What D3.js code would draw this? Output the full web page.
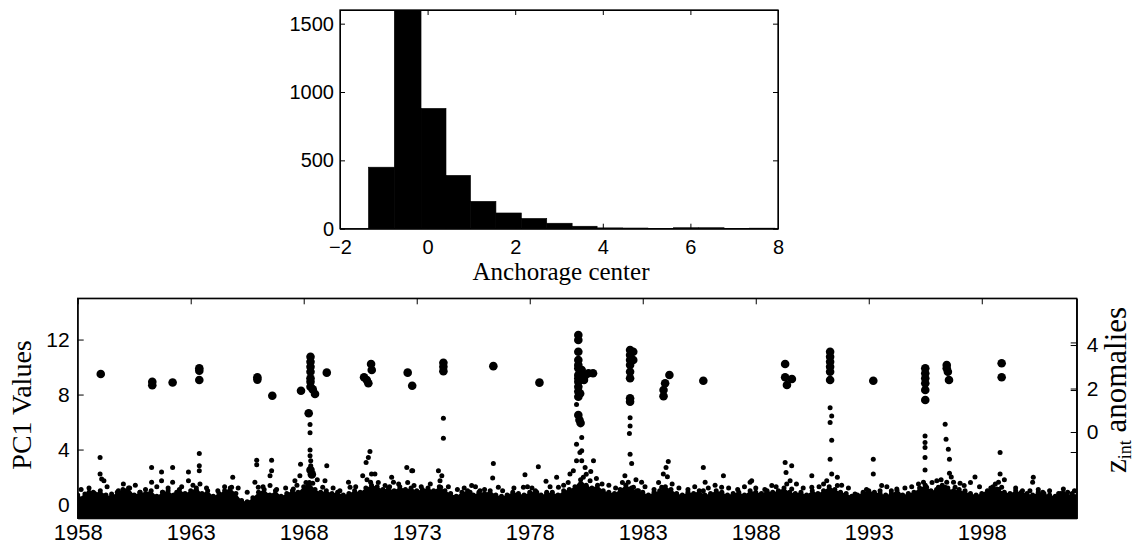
<!DOCTYPE html>
<html>
<head>
<meta charset="utf-8">
<script src="https://cdn.jsdelivr.net/npm/d3@7/dist/d3.min.js"></script>
<style>
	body { margin: 0; background: #fff; }
	svg { display: block; }
	.tick text { font-family: 'Liberation Sans', Arial, Helvetica, sans-serif; fill: #000; }
	.tick line, .domain { stroke: #000; }
	.ttl { font-family: 'Liberation Serif', 'Times New Roman', serif; fill: #000; }
</style>
</head>
<body>
<div id="chart"></div>
<script>
// histogram (top panel)
const histEdges = [-1.35, -0.76, -0.15, 0.42, 0.98, 1.56, 2.14, 2.72, 3.30, 3.87, 4.45, 5.03, 5.61, 6.19, 6.77, 7.35, 7.93];
const histCounts = [450, 2050, 880, 390, 200, 115, 75, 40, 18, 6, 5, 2, 7, 7, 1, 4];
const histXTicks = [-2, 0, 2, 4, 6, 8];
const histYTicks = [0, 500, 1000, 1500];

// time series (bottom panel)
const yearTicks = [1958, 1963, 1968, 1973, 1978, 1983, 1988, 1993, 1998];
const pcTicks = [0, 4, 8, 12];
const zTicks = [0, 2, 4];
const zMinorTicks = [-3.5, -0.92, 1.93, 4.12];

// upper edge of the dense PC1 cloud, one value per quarter year from 1958.0
const coreStart = 1958, coreStep = 0.25;
const coreTop = [
	0.7, 0.5, 0.9, 0.8,  1.0, 0.7, 0.6, 0.9,  1.1, 1.2, 0.7, 0.9,  0.8, 1.0, 0.6, 0.9,
	1.0, 0.7, 1.1, 0.8,  1.0, 1.2, 0.8, 1.0,  0.6, 0.8, 1.0, 1.2,  0.8, 0.3, 0.2, 0.5,
	0.9, 1.1, 0.7, 1.0,  0.6, 0.8, 1.0, 0.9,  1.3, 1.6, 1.1, 0.9,  1.0, 0.8, 0.9, 0.7,
	0.8, 1.0, 0.9, 1.2,  1.4, 1.3, 1.1, 1.2,  1.0, 1.3, 1.1, 1.2,  1.0, 1.1, 1.2, 1.0,
	1.3, 1.0, 0.8, 0.6,  0.9, 1.0, 0.7, 0.9,  0.8, 1.0, 0.7, 0.6,  0.7, 0.9, 0.8, 0.7,
	0.9, 1.0, 0.7, 0.8,  0.9, 0.7, 1.0, 1.1,  1.3, 1.8, 1.4, 1.2,  1.4, 1.0, 0.9, 0.8,
	1.1, 1.4, 1.2, 1.0,  0.9, 0.7, 0.9, 1.0,  1.3, 1.1, 0.8, 0.7,  0.9, 0.8, 1.0, 0.7,
	0.8, 1.0, 0.9, 0.7,  0.8, 0.9, 0.7, 1.0,  0.9, 0.8, 1.0, 0.9,  1.0, 1.2, 0.9, 0.8,
	0.9, 0.7, 1.0, 0.8,  1.0, 1.3, 1.1, 0.9,  0.8, 0.6, 0.7, 0.9,  1.0, 0.9, 0.8, 0.7,
	0.8, 1.0, 0.7, 0.8,  0.9, 1.2, 1.4, 1.0,  1.1, 1.4, 1.2, 1.0,  1.1, 0.9, 0.8, 0.7,
	0.8, 1.0, 1.3, 1.1,  0.9, 0.8, 1.0, 0.9,  0.8, 0.7, 0.9, 0.8,  0.7, 0.6, 0.8, 0.7,
	0.8, 0.7
];

// scattered PC1 values above the cloud [year, value]
const pcDots = [
	[1958.99,3.42],[1958.99,2.22],[1959.06,1.86],[1959.16,1.74],[1958.32,0.77],[1958.69,0.89],[1959.5,0.77],
	[1960.02,1.5],[1960.09,1.01],[1960.76,0.89],[1961.27,2.7],[1961.27,1.62],[1961.13,0.77],[1961.71,2.36],
	[1961.71,1.74],[1961.76,0.89],[1962.2,2.7],[1962.2,1.62],[1962.38,0.89],[1962.9,2.36],[1962.9,1.74],
	[1963.38,3.71],[1963.38,2.82],[1963.38,2.46],[1963.41,1.5],[1963.26,1.01],[1964.86,1.98],[1964.81,1.26],[1964.66,0.53],
	[1965.92,3.23],[1965.92,2.89],[1965.84,1.62],[1965.99,1.26],[1966.58,3.23],[1966.58,2.46],[1966.51,2.1],[1966.51,1.38],
	[1967.86,2.94],[1967.61,1.74],[1967.83,2.1],[1967.54,1.14],[1968.28,3.96],[1968.28,3.55],[1968.31,3.18],[1968.31,2.82],
	[1968.2,1.38],[1968.4,1.55],[1968.28,5.83],[1968.28,5.23],[1969.02,2.82],[1968.94,1.74],[1968.84,1.26],
	[1969.98,1.62],[1970.05,1.26],[1970.93,3.86],[1970.86,3.42],[1970.76,3.06],[1971.0,2.22],[1971.15,2.22],[1970.96,1.62],
	[1970.61,2.1],[1971.6,1.38],[1971.89,1.98],[1971.97,1.62],[1972.56,2.7],[1972.78,2.46],
	[1972.82,2.46],[1972.88,1.38],[1973.96,2.46],[1974.11,2.1],[1974.03,1.74],[1974.06,1.26],[1974.18,0.77],[1974.18,6.27],[1974.18,4.82],
	[1975.43,1.38],[1975.36,0.89],[1975.8,1.01],[1976.39,2.99],[1976.36,1.93],[1976.61,1.26],[1976.24,0.77],
	[1977.79,2.17],[1977.72,1.26],[1978.38,2.75],[1978.31,0.89],[1978.72,1.69],[1978.75,0.89],[1979.19,1.98],[1979.27,1.26],[1979.31,0.53],
	[1979.78,2.22],[1979.93,2.46],[1980.07,3.18],[1980.22,3.79],[1980.07,4.39],[1980.07,7.28],
	[1980.3,4.87],[1980.3,3.91],[1980.3,3.18],[1980.45,2.7],[1980.82,3.18],[1980.37,1.98],[1980.67,1.74],[1980.52,1.26],[1980.82,0.77],[1980.37,0.77],
	[1982.44,3.66],[1982.51,2.99],[1982.21,2.1],[1982.36,1.62],[1982.59,1.26],[1982.95,1.62],[1982.81,1.01],[1982.44,6.32],[1982.44,5.72],[1982.41,5.16],
	[1984.13,3.14],[1984.03,2.7],[1983.91,2.22],[1984.09,2.03],[1983.84,1.26],[1983.91,0.77],
	[1985.68,2.7],[1985.76,1.62],[1985.68,1.01],[1986.57,2.1],[1986.49,1.26],[1987.75,1.62],
	[1987.82,1.74],[1988.71,1.38],[1989.3,3.06],[1989.59,2.82],[1989.34,2.34],[1989.52,1.74],[1989.37,1.5],[1989.59,1.14],
	[1990.48,2.1],[1990.48,1.26],[1991.36,2.22],[1991.14,1.74],[1991.61,1.98],[1991.61,1.38],[1991.58,0.77],
	[1991.29,7.04],[1991.36,6.44],[1991.29,5.96],[1991.36,4.68],[1991.29,3.3],
	[1992.39,0.77],[1992.61,0.53],[1993.2,3.3],[1993.2,2.22],[1993.57,1.38],[1993.5,1.01],[1994.24,1.14],[1994.31,0.77],
	[1995.49,4.99],[1995.49,4.51],[1995.49,4.15],[1995.49,3.42],[1995.49,2.51],[1995.42,1.62],[1995.56,1.26],[1995.64,0.77],
	[1996.01,1.74],[1996.08,1.26],[1996.16,0.77],[1996.38,5.84],[1996.42,4.75],[1996.52,4.03],[1996.57,3.3],[1996.57,2.27],
	[1996.45,1.62],[1996.38,1.26],[1996.75,1.62],[1996.82,1.26],[1996.9,0.89],[1997.04,1.55],[1997.22,1.38],[1997.26,1.01],
	[1998.15,0.77],[1998.81,3.79],[1998.81,2.22],[1998.74,1.62],[1998.67,1.14],[1998.88,1.26],[1998.96,0.77],[1999.1,0.53],
	[1999.32,0.41],[1999.69,0.29],[2000.28,1.98],[2000.25,1.62],[2000.13,1.01],[2000.06,0.53],[2000.87,0.29],[2001.24,0.05],
	[2001.61,1.14],[2001.61,0.82],[2001.98,0.29],
	[1958.15,1.1],[1958.5,1.2],[1959.3,1.3],[1959.8,1.0],[1960.3,1.2],[1960.55,1.4],[1961.0,1.1],[1961.5,1.3],[1962.0,1.2],
	[1962.6,1.3],[1963.1,1.4],[1963.7,1.2],[1964.2,1.0],[1964.5,1.3],[1965.1,1.2],[1965.5,0.9],[1966.2,1.3],[1966.8,1.1],
	[1967.2,1.2],[1967.7,1.4],[1968.6,1.8],[1968.1,1.6],[1969.3,1.2],[1969.6,1.0],[1970.3,1.3],[1970.8,1.8],[1971.3,1.6],
	[1971.8,1.3],[1972.2,1.5],[1972.6,1.6],[1973.2,1.3],[1973.6,1.5],[1974.4,1.3],[1974.8,1.1],[1975.1,1.2],[1975.6,1.3],
	[1976.0,1.1],[1976.8,1.0],[1977.3,1.2],[1977.9,1.3],[1978.1,1.2],[1978.9,1.3],[1979.5,1.4],[1979.7,1.6],[1980.5,2.2],
	[1980.7,2.4],[1980.95,1.9],[1981.2,1.5],[1981.5,1.4],[1981.8,1.2],[1982.1,1.6],[1982.7,1.8],[1983.1,1.3],[1983.5,1.1],
	[1983.7,1.6],[1984.3,1.5],[1984.6,1.2],[1985.0,1.1],[1985.3,1.3],[1985.9,1.2],[1986.2,1.4],[1986.8,1.2],[1987.2,1.1],
	[1987.5,1.3],[1988.0,1.2],[1988.4,1.1],[1988.9,1.3],[1989.8,1.5],[1990.1,1.2],[1990.8,1.3],[1991.0,1.5],[1991.8,1.4],
	[1992.1,1.2],[1992.9,1.1],[1993.8,1.3],[1994.0,1.0],[1994.6,1.2],[1994.9,1.3],[1995.2,1.5],[1995.8,1.6],[1996.2,1.8],
	[1996.65,2.0],[1997.5,1.6],[1997.7,2.0],[1997.9,1.3],[1998.4,1.2],[1998.6,1.5],[1999.0,1.8],[1999.5,1.2],[1999.8,1.0],
	[2000.5,1.1],[2000.7,0.9],[2001.0,1.0],[2001.4,0.8],[2001.8,0.9],[2002.1,1.0]
];

// z_int anomalies, right axis [year, value]
const zDots = [
	[1959.02,2.67],[1961.3,2.31],[1961.3,2.15],[1962.2,2.28],[1963.38,2.93],[1963.38,2.82],[1963.38,2.39],
	[1965.95,2.52],[1965.95,2.41],[1966.61,1.67],[1967.88,1.90],[1968.22,0.86],
	[1968.3,3.46],[1968.3,3.23],[1968.3,3.0],[1968.3,2.77],[1968.3,2.47],[1968.3,2.31],[1968.3,2.08],[1968.4,1.96],[1968.5,1.75],[1969.02,2.73],
	[1968.3,-1.75],[1968.36,-1.95],
	[1970.67,2.52],[1970.79,2.39],[1970.86,2.24],[1970.98,3.13],[1971.01,2.85],
	[1972.6,2.73],[1972.8,2.13],
	[1974.18,3.18],[1974.18,3.0],[1974.18,2.8],
	[1976.39,3.03],[1978.43,2.27],
	[1980.15,4.46],[1980.15,4.23],[1980.15,3.69],[1980.15,3.31],[1980.15,3.08],[1980.15,2.93],[1980.15,2.62],[1980.15,2.47],
	[1980.15,2.31],[1980.15,2.08],[1980.15,1.86],[1980.15,1.62],
	[1980.3,2.85],[1980.45,2.6],[1980.6,2.7],[1980.8,2.7],[1980.4,2.39],[1980.23,1.77],[1980.15,0.78],[1980.2,0.55],[1980.25,0.41],
	[1982.44,3.77],[1982.44,3.54],[1982.44,3.31],[1982.44,3.08],[1982.44,2.77],[1982.44,2.47],[1982.44,1.55],[1982.44,1.39],
	[1982.58,3.69],[1982.58,3.31],
	[1984.18,2.62],[1983.99,2.24],[1983.92,1.93],[1983.92,1.65],
	[1985.68,2.36],
	[1989.3,3.13],[1989.3,2.52],[1989.6,2.44],[1989.38,2.16],
	[1991.29,3.69],[1991.29,3.46],[1991.29,3.23],[1991.29,3.0],[1991.29,2.77],[1991.29,2.39],
	[1993.2,2.36],
	[1995.5,2.93],[1995.5,2.7],[1995.5,2.47],[1995.5,2.24],[1995.5,1.93],[1995.5,1.47],
	[1996.45,3.08],[1996.45,2.93],[1996.5,2.77],[1996.55,2.39],
	[1998.88,3.16],[1998.88,2.52]
];

const W = 1138, H = 552;

const svg = d3.select('#chart').append('svg')
	.attr('width', W)
	.attr('height', H);

svg.append('rect').attr('width', W).attr('height', H).attr('fill', '#fff');

drawHist();
drawSeries();

function drawHist() {
	const left = 340, right = 778, top = 10, bottom = 228.7;

	const x = d3.scaleLinear().domain([-2, 8]).range([left, right]),
		y = d3.scaleLinear().domain([0, 1600]).range([bottom, top]);

	svg.append('clipPath').attr('id', 'histClip')
		.append('rect')
		.attr('x', left).attr('y', top)
		.attr('width', right - left).attr('height', bottom - top);

	const bins = histCounts.map((c, i) => ({ x0: histEdges[i], x1: histEdges[i + 1], n: c }));

	svg.append('g')
		.attr('clip-path', 'url(#histClip)')
		.selectAll('rect')
		.data(bins)
		.enter()
		.append('rect')
		.attr('x', d => x(d.x0))
		.attr('y', d => y(d.n))
		.attr('width', d => x(d.x1) - x(d.x0))
		.attr('height', d => y(0) - y(d.n))
		.attr('fill', '#000')
		.attr('stroke', '#000')
		.attr('stroke-width', 0.6);

	// axes, ticks pointing inward
	svg.append('g')
		.attr('transform', 'translate(' + left + ',0)')
		.call(d3.axisLeft(y).tickValues(histYTicks).tickSize(-5).tickSizeOuter(0).tickPadding(6).tickFormat(d3.format('d')))
		.call(g => g.selectAll('text').style('font-size', '20px'));

	svg.append('g')
		.attr('transform', 'translate(' + right + ',0)')
		.call(d3.axisRight(y).tickValues(histYTicks).tickSize(-5).tickSizeOuter(0).tickFormat(''));

	svg.append('g')
		.attr('transform', 'translate(0,' + bottom + ')')
		.call(d3.axisBottom(x).tickValues(histXTicks).tickSize(-5).tickSizeOuter(0).tickPadding(11))
		.call(g => g.selectAll('text').style('font-size', '20px'));

	svg.append('g')
		.attr('transform', 'translate(0,' + top + ')')
		.call(d3.axisTop(x).tickValues(histXTicks).tickSize(-5).tickSizeOuter(0).tickFormat(''));

	svg.append('rect')
		.attr('x', left).attr('y', top)
		.attr('width', right - left).attr('height', bottom - top)
		.attr('fill', 'none').attr('stroke', '#000').attr('stroke-width', 1.3);

	svg.append('text')
		.classed('ttl', true)
		.attr('x', (left + right) / 2 + 2)
		.attr('y', 280)
		.attr('text-anchor', 'middle')
		.style('font-size', '25px')
		.text('Anchorage center');
}

function drawSeries() {
	const left = 77.7, right = 1076.7, top = 298.3, bottom = 518.3;

	const x = d3.scaleLinear().domain([1958, 2002.2]).range([left, right]),
		y = d3.scaleLinear().domain([-1, 15]).range([bottom, top]),
		yR = d3.scaleLinear().domain([-3.97, 6.15]).range([bottom, top]);

	svg.append('clipPath').attr('id', 'seriesClip')
		.append('rect')
		.attr('x', left).attr('y', top)
		.attr('width', right - left).attr('height', bottom - top);

	const plot = svg.append('g').attr('clip-path', 'url(#seriesClip)');

	const core = coreTop.map((v, i) => [coreStart + i * coreStep, v]);

	// dense cloud near zero
	plot.append('path')
		.datum(core)
		.attr('d', d3.area()
			.x(d => x(d[0]))
			.y0(y(-1))
			.y1(d => y(d[1])))
		.attr('fill', '#000');

	plot.append('g')
		.selectAll('circle')
		.data(core.concat(pcDots))
		.enter()
		.append('circle')
		.attr('cx', d => x(d[0]))
		.attr('cy', d => y(d[1]))
		.attr('r', 2.5)
		.attr('fill', '#000');

	plot.append('g')
		.selectAll('circle')
		.data(zDots)
		.enter()
		.append('circle')
		.attr('cx', d => x(d[0]))
		.attr('cy', d => yR(d[1]))
		.attr('r', 4.3)
		.attr('fill', '#000');

	// left axis
	svg.append('g')
		.attr('transform', 'translate(' + left + ',0)')
		.call(d3.axisLeft(y).tickValues(pcTicks).tickSize(-6).tickSizeOuter(0).tickPadding(8))
		.call(g => g.selectAll('text').style('font-size', '21px'));

	// right axis (z_int anomalies)
	svg.append('g')
		.attr('transform', 'translate(' + right + ',0)')
		.call(d3.axisRight(yR).tickValues(zTicks).tickSize(-6).tickSizeOuter(0).tickPadding(10))
		.call(g => g.selectAll('text').style('font-size', '21px'));

	svg.append('g')
		.attr('transform', 'translate(' + right + ',0)')
		.call(d3.axisRight(yR).tickValues(zMinorTicks).tickSize(-6).tickSizeOuter(0).tickFormat(''));

	svg.append('g')
		.attr('transform', 'translate(0,' + bottom + ')')
		.call(d3.axisBottom(x).tickValues(yearTicks).tickSize(-6).tickSizeOuter(0).tickPadding(6).tickFormat(d3.format('d')))
		.call(g => g.selectAll('text').style('font-size', '22px'));

	svg.append('g')
		.attr('transform', 'translate(0,' + top + ')')
		.call(d3.axisTop(x).tickValues(yearTicks).tickSize(-6).tickSizeOuter(0).tickFormat(''));

	svg.append('rect')
		.attr('x', left).attr('y', top)
		.attr('width', right - left).attr('height', bottom - top)
		.attr('fill', 'none').attr('stroke', '#000').attr('stroke-width', 1.3);

	svg.append('text')
		.classed('ttl', true)
		.attr('transform', 'translate(31,405) rotate(-90)')
		.attr('text-anchor', 'middle')
		.style('font-size', '28px')
		.text('PC1 Values');

	const zt = svg.append('text')
		.classed('ttl', true)
		.attr('transform', 'translate(1126,390) rotate(-90)')
		.attr('text-anchor', 'middle')
		.style('font-size', '31px');
	zt.append('tspan').text('z');
	zt.append('tspan').attr('dy', 5).style('font-size', '18px').text('int');
	zt.append('tspan').attr('dy', -5).text(' anomalies');
}
</script>
</body>
</html>
